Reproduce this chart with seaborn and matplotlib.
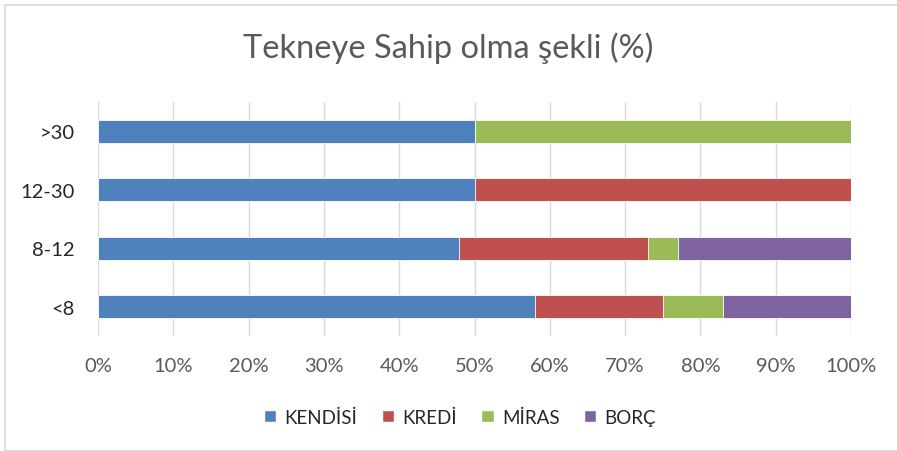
import numpy as np
import pandas as pd
import matplotlib.pyplot as plt
import seaborn as sns
from matplotlib.patches import Rectangle, Patch

# Data (percent), categories listed top to bottom
groups = [">30", "12-30", "8-12", "<8"]
kendisi = [50, 50, 48, 58]
kredi = [0, 50, 25, 17]
miras = [50, 0, 4, 8]
borc = [0, 0, 23, 17]

series_names = ["KENDİSİ", "KREDİ", "MİRAS", "BORÇ"]
colors = ["#4F81BD", "#C0504D", "#9BBB59", "#8064A2"]

sns.set_style("white")
plt.rcParams["font.family"] = ["Lato", "DejaVu Sans"]

df = pd.DataFrame({"group": groups, "KENDİSİ": kendisi, "KREDİ": kredi,
                   "MİRAS": miras, "BORÇ": borc})

fig = plt.figure(figsize=(8.97, 4.52), dpi=100)
ax = fig.add_axes([98 / 897, 1 - 337 / 452, (851 - 98) / 897, (337 - 103) / 452])

# stacked bars: draw cumulative totals from the last series back to the first
cum = df[series_names].cumsum(axis=1)
for name, col in reversed(list(zip(series_names, colors))):
    sns.barplot(x=cum[name], y=df["group"], order=groups, orient="y",
                color=col, width=0.4, ax=ax, saturation=1,
                edgecolor="white", linewidth=0.6)

ax.set_xlim(0, 100)
ax.set_ylim(3.5, -0.5)
ax.set_xticks(np.arange(0, 101, 10))
ax.set_xticklabels([f"{v}%" for v in range(0, 101, 10)])
ax.xaxis.grid(True, color="#d9d9d9", linewidth=1)
ax.set_axisbelow(True)
for s in ax.spines.values():
    s.set_visible(False)
ax.set_xlabel("")
ax.set_ylabel("")
ax.tick_params(axis="x", colors="#595959", labelsize=14.5, length=0, pad=15)
ax.tick_params(axis="y", colors="#262626", labelsize=14.5, length=0, pad=17)

fig.text(0.5, 1 - 48 / 452, "Tekneye Sahip olma şekli (%)", ha="center",
         va="center", fontsize=23.5, color="#595959")

handles = [Patch(facecolor=c, label=n) for n, c in zip(series_names, colors)]
fig.legend(handles=handles, loc="center", bbox_to_anchor=(460 / 897, 1 - 418 / 452),
           ncol=4, frameon=False, fontsize=13.5, handlelength=0.65, handleheight=0.65,
           handletextpad=0.45, columnspacing=1.3, labelcolor="#262626")

fig.patches.append(Rectangle((5 / 897, 0), 1.0, 1 - 6 / 452, transform=fig.transFigure,
                             fill=False, edgecolor="#d9d9d9", linewidth=1.2))

fig.savefig("out.png", dpi=100)
